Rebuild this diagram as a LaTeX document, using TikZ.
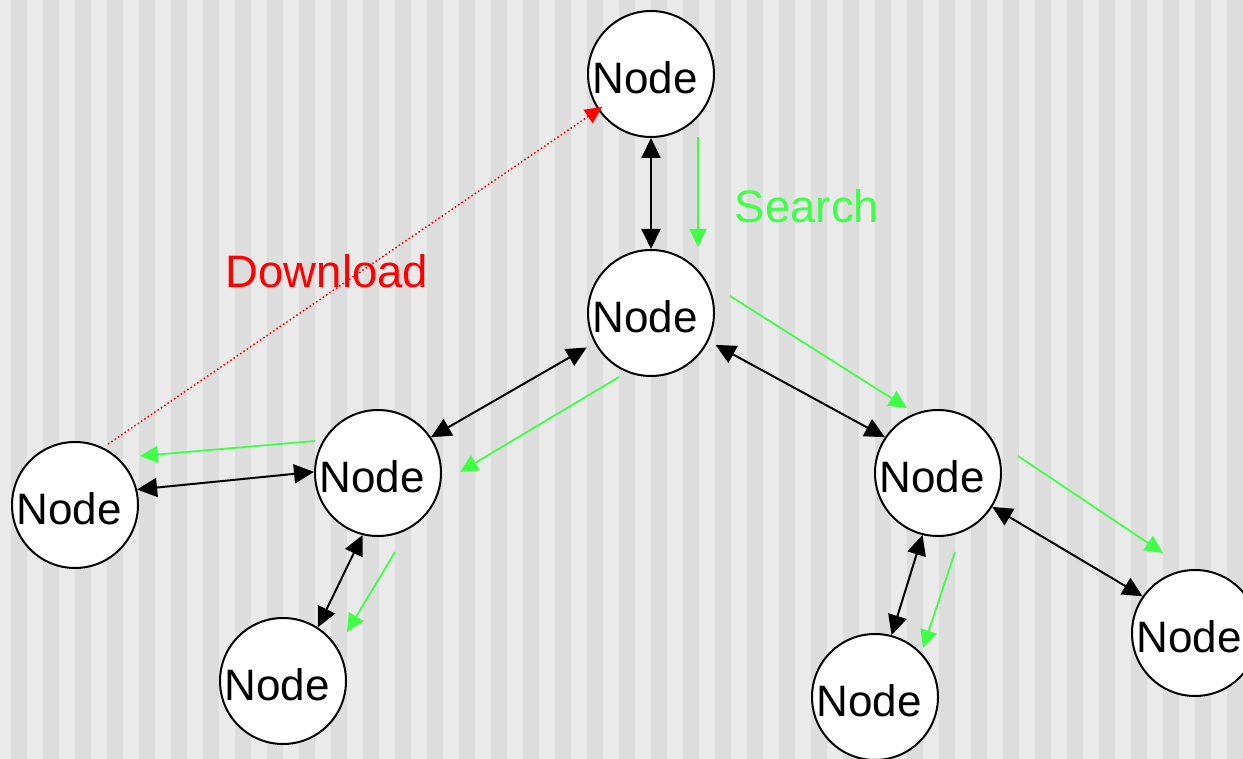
\documentclass[tikz,border=0pt]{standalone}
\usepackage{fontspec}
\setmainfont{Liberation Sans}
\usetikzlibrary{arrows.meta,calc}
\definecolor{bglight}{RGB}{234,234,234}
\definecolor{bgdark}{RGB}{221,221,221}
\definecolor{msggreen}{RGB}{64,255,72}
\definecolor{dlred}{RGB}{255,0,0}
\tikzset{
  peer/.style={circle,draw=black,line width=2pt,fill=white,minimum size=126pt,inner sep=0pt,
    label={[xshift=-6pt,yshift=-4pt,font=\fontsize{44}{50}\selectfont]center:Node}},
  link/.style={line width=2pt,draw=black,{Triangle[length=20pt,width=19pt]}-{Triangle[length=20pt,width=19pt]}},
  msg/.style={line width=1.8pt,draw=msggreen,-{Triangle[length=18pt,width=17pt]}},
  dlarrow/.style={line width=1.5pt,draw=dlred,dash pattern=on 1.5pt off 2.5pt,-{Triangle[length=17pt,width=16pt]}},
  lbl/.style={font=\fontsize{45.5}{52}\selectfont,inner sep=0pt}
}
\begin{document}
\begin{tikzpicture}[x=1pt,y=-1pt]
\useasboundingbox (0,0) rectangle (1243,759);
\clip (0,0) rectangle (1243,759);
\fill[bglight] (0,0) rectangle (1243,759);
\foreach \i in {0,...,38} \fill[bgdark] ({11+32*\i},0) rectangle ({27+32*\i},759);
% nodes
\node[peer] (T) at (651,74) {};
\node[peer] (M) at (651,313) {};
\node[peer] (LM) at (378,473) {};
\node[peer] (L) at (75,505) {};
\node[peer] (BL) at (283,681) {};
\node[peer] (RM) at (938,473) {};
\node[peer] (BR) at (875,697) {};
\node[peer] (FR) at (1195,633) {};
% black links
\draw[link] (T.-90) -- (M.90);
\draw[link,shorten <=9pt] (M.208) -- (LM.34);
\draw[link] (L.14) -- (LM.179);
\draw[link] (LM.-104) -- (BL.57);
\draw[link,shorten <=8pt] (M.-26) -- (RM.146);
\draw[link] (RM.-32) -- (FR.145);
\draw[link] (RM.-104) -- (BR.75);
% green search messages
\draw[msg] ($(T)+(47,63)$) -- ($(M)+(47,-66)$);
\draw[msg] ($(M)+(79,-17)$) -- ($(RM)+(-31,-65)$);
\draw[msg] ($(M)+(-32,64)$) -- ($(LM)+(82,-1)$);
\draw[msg] ($(LM)+(-63,-32)$) -- ($(L)+(65,-49)$);
\draw[msg] ($(LM)+(17,79)$) -- ($(BL)+(64,-49)$);
\draw[msg] ($(RM)+(80,-17)$) -- ($(FR)+(-32,-80)$);
\draw[msg] ($(RM)+(17,79)$) -- ($(BR)+(48,-49)$);
% download
\draw[dlarrow,shorten <=6pt,shorten >=-5pt] (L.64) -- (T.214);
% labels
\node[lbl,text=msggreen] (search) at (807,206) {Search};
\node[lbl,text=dlred] (download) at (327,271) {Download};
\end{tikzpicture}
\end{document}
